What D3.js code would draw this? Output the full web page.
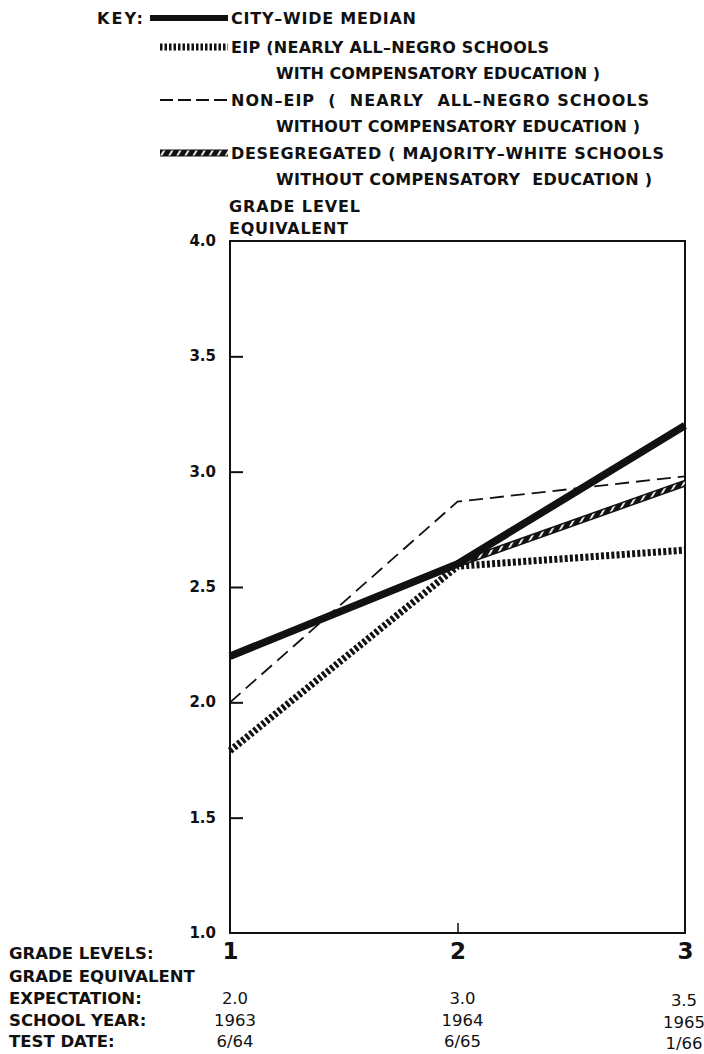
<!DOCTYPE html>
<html>
<head>
<meta charset="utf-8">
<style>
html, body {
  margin: 0px;
  padding: 0px;
  background: #fff;
}
text {
  font-family: "DejaVu Sans", sans-serif;
  fill: #111;
}
.bold { font-weight: bold; }
</style>
</head>
<body>
<div id="chart"></div>
<script src="https://cdn.jsdelivr.net/npm/d3@7"></script>
<script>
  // values
  var grades = [1, 2, 3];
  var cityWide = [2.2, 2.6, 3.2];
  var eip = [1.79, 2.59, 2.66];
  var nonEip = [2.0, 2.87, 2.98];
  var desegregated = [null, 2.6, 2.95];

  var yTicks = [1.0, 1.5, 2.0, 2.5, 3.0, 3.5, 4.0];
  var expectation = ["2.0", "3.0", "3.5"];
  var schoolYear = ["1963", "1964", "1965"];
  var testDate = ["6/64", "6/65", "1/66"];
  var rowLabels = ["GRADE LEVELS:", "GRADE EQUIVALENT", "EXPECTATION:", "SCHOOL YEAR:", "TEST DATE:"];

  var keyNames = ["median", "eip", "noneip", "deseg"];
  var keyLines = [
    ["CITY\u2013WIDE MEDIAN"],
    ["EIP (NEARLY ALL\u2013NEGRO SCHOOLS", "WITH COMPENSATORY EDUCATION )"],
    ["NON\u2013EIP  (  NEARLY  ALL\u2013NEGRO SCHOOLS", "WITHOUT COMPENSATORY EDUCATION )"],
    ["DESEGREGATED ( MAJORITY\u2013WHITE SCHOOLS", "WITHOUT COMPENSATORY  EDUCATION )"]
  ];
  // widths the scan's lettering takes up
  var keyWidths = [[185], [318, 324], [418, 364], [433, 376]];

  var W = 704, H = 1054;
  var svg = d3.select("#chart").append("svg")
    .attr("width", W)
    .attr("height", H);

  // hatch used by the desegregated line
  var defs = svg.append("defs");
  var pat = defs.append("pattern")
    .attr("id", "hatch")
    .attr("patternUnits", "userSpaceOnUse")
    .attr("width", 7)
    .attr("height", 7)
    .attr("patternTransform", "rotate(30)");
  pat.append("rect").attr("width", 7).attr("height", 7).attr("fill", "#111");
  pat.append("rect").attr("x", 0).attr("width", 1.8).attr("height", 7).attr("fill", "#fff");

  var x = d3.scaleLinear().domain([1, 3]).range([230, 685]);
  var y = d3.scaleLinear().domain([1, 4]).range([933, 241]);

  // frame
  svg.append("rect")
    .attr("x", x(1)).attr("y", y(4))
    .attr("width", x(3) - x(1)).attr("height", y(1) - y(4))
    .attr("fill", "none")
    .attr("stroke", "#111")
    .attr("stroke-width", 2);

  var yAxis = d3.axisLeft(y)
    .tickValues(yTicks)
    .tickFormat(d3.format(".1f"))
    .tickSizeInner(-13)
    .tickSizeOuter(0)
    .tickPadding(14);
  var gy = svg.append("g")
    .attr("transform", "translate(" + x(1) + ",0)")
    .call(yAxis);
  gy.select(".domain").remove();
  gy.selectAll(".tick line")
    .attr("stroke", "#111")
    .attr("stroke-width", 2)
    .filter(function (d) { return d == 1 || d == 4; }).remove();
  gy.selectAll(".tick text")
    .attr("class", "bold")
    .attr("font-size", 15)
    .attr("font-family", "DejaVu Sans")
    .attr("fill", "#111")
    .attr("dy", "0.3em");

  var xAxis = d3.axisBottom(x)
    .tickValues(grades)
    .tickFormat(d3.format("d"))
    .tickSizeInner(-10)
    .tickSizeOuter(0)
    .tickPadding(10);
  var gx = svg.append("g")
    .attr("transform", "translate(0," + y(1) + ")")
    .call(xAxis);
  gx.select(".domain").remove();
  gx.selectAll(".tick line")
    .attr("stroke", "#111")
    .attr("stroke-width", 1.5)
    .filter(function (d) { return d != 2; }).remove();
  gx.selectAll(".tick text")
    .attr("class", "bold")
    .attr("font-size", 23)
    .attr("font-family", "DejaVu Sans")
    .attr("fill", "#111");

  // axis title
  svg.append("text").attr("class", "bold").attr("font-size", 16)
    .attr("x", 229).attr("y", 212).attr("textLength", 131).text("GRADE LEVEL");
  svg.append("text").attr("class", "bold").attr("font-size", 16)
    .attr("x", 229).attr("y", 234).attr("textLength", 119).text("EQUIVALENT");

  // lines
  var line = d3.line()
    .defined(function (d) { return d != null; })
    .x(function (d, i) { return x(grades[i]); })
    .y(function (d) { return y(d); });

  svg.append("path").datum(nonEip)
    .attr("d", line)
    .attr("fill", "none").attr("stroke", "#111")
    .attr("stroke-width", 1.8)
    .attr("stroke-dasharray", "14,7");

  svg.append("path").datum(eip)
    .attr("d", line)
    .attr("fill", "none").attr("stroke", "#111")
    .attr("stroke-width", 7)
    .attr("stroke-dasharray", "3,2.2");

  svg.append("path").datum(desegregated)
    .attr("d", line)
    .attr("fill", "none").attr("stroke", "#111")
    .attr("stroke-width", 7);
  svg.append("path").datum(desegregated)
    .attr("d", line)
    .attr("fill", "none").attr("stroke", "url(#hatch)")
    .attr("stroke-width", 4);

  svg.append("path").datum(cityWide)
    .attr("d", line)
    .attr("fill", "none").attr("stroke", "#111")
    .attr("stroke-width", 7.5)
    .attr("stroke-linejoin", "round");

  // key
  svg.append("text").attr("class", "bold").attr("font-size", 16)
    .attr("x", 97).attr("y", 24).attr("textLength", 46).text("KEY:");

  var keyY = [18, 47, 100, 153];
  var swatch = svg.selectAll("g.key")
    .data(keyNames)
    .enter()
    .append("g")
    .attr("class", "key")
    .attr("transform", function (d, i) { return "translate(0," + keyY[i] + ")"; });

  swatch.each(function (d, i) {
    var g = d3.select(this);
    var x0 = i == 0 ? 150 : 160;
    if (d == "median") {
      g.append("line").attr("x1", x0).attr("x2", 228)
        .attr("stroke", "#111").attr("stroke-width", 6);
    } else if (d == "eip") {
      g.append("line").attr("x1", x0).attr("x2", 228)
        .attr("stroke", "#111").attr("stroke-width", 7)
        .attr("stroke-dasharray", "2.5,2");
    } else if (d == "noneip") {
      g.append("line").attr("x1", x0).attr("x2", 228)
        .attr("stroke", "#111").attr("stroke-width", 2)
        .attr("stroke-dasharray", "13,5");
    } else {
      g.append("line").attr("x1", x0).attr("x2", 228)
        .attr("stroke", "#111").attr("stroke-width", 7);
      g.append("line").attr("x1", x0).attr("x2", 228)
        .attr("stroke", "url(#hatch)").attr("stroke-width", 5);
    }
    keyLines[i].forEach(function (t, j) {
      g.append("text").attr("class", "bold").attr("font-size", 16)
        .attr("x", j == 0 ? 231 : 276)
        .attr("y", 6 + j * 26)
        .attr("xml:space", "preserve")
        .attr("textLength", keyWidths[i][j])
        .attr("lengthAdjust", "spacing")
        .text(t);
    });
  });

  // table under the axis
  var rowY = [959, 982, 1004, 1026, 1047];
  svg.selectAll("text.rowlabel")
    .data(rowLabels)
    .enter()
    .append("text")
    .attr("class", "rowlabel bold")
    .attr("font-size", 16.5)
    .attr("x", 9)
    .attr("y", function (d, i) { return rowY[i]; })
    .text(function (d) { return d; });

  var tableRows = [expectation, schoolYear, testDate];
  tableRows.forEach(function (row, r) {
    svg.selectAll("text.val" + r)
      .data(row)
      .enter()
      .append("text")
      .attr("class", "val" + r)
      .attr("font-size", 16.5)
      .attr("font-family", "Liberation Sans")
      .attr("text-anchor", "middle")
      .attr("x", function (d, i) { return x(grades[i]) + (i == 2 ? -1 : 5); })
      .attr("y", function (d, i) { return rowY[r + 2] + (i == 2 ? 1.5 : 0); })
      .text(function (d) { return d; });
  });
</script>
</body>
</html>
